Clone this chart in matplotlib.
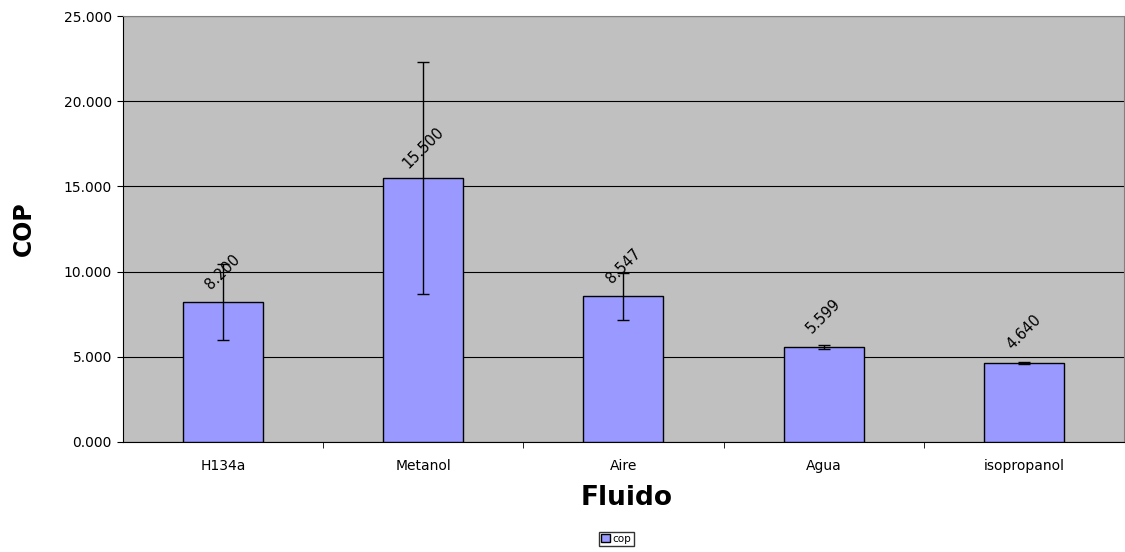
import matplotlib

matplotlib.use("Agg")

import matplotlib.pyplot as plt
import numpy as np
from matplotlib.ticker import FuncFormatter

# data
fluidos = ["H134a", "Metanol", "Aire", "Agua", "isopropanol"]
cop = [8.200, 15.500, 8.547, 5.599, 4.640]
cop_err = [2.23, 6.80, 1.38, 0.12, 0.04]
y_ticks = [0, 5, 10, 15, 20, 25]

plt.rcParams["font.family"] = ["DejaVu Sans"]

fig = plt.figure(figsize=(11.25, 5.52), dpi=100)
ax = fig.add_axes([0.1093, 0.1993, 0.8897, 0.7717])
ax.set_facecolor("#C0C0C0")

x = np.arange(len(fluidos))
ax.bar(x, cop, width=0.4, color="#9999FF", edgecolor="black", linewidth=1.0,
       label="cop", zorder=3)
ax.errorbar(x, cop, yerr=cop_err, fmt="none", ecolor="black", elinewidth=1.0,
            capsize=4, capthick=1.0, zorder=4)

# value labels, rotated, centred a fixed distance above each bar
for xi, v in zip(x, cop):
    ax.annotate(f"{v:.3f}", xy=(xi, v), xytext=(0, 22), textcoords="offset points",
                rotation=45, ha="center", va="center", fontsize=10.5, zorder=5)

ax.set_xlim(-0.5, len(fluidos) - 0.5)
ax.set_ylim(0, 25)
ax.set_yticks(y_ticks)
ax.yaxis.set_major_formatter(FuncFormatter(lambda v, _: f"{v:.3f}"))
ax.grid(axis="y", color="black", linewidth=0.8, zorder=1)
ax.set_axisbelow(True)

ax.set_xticks(x)
ax.set_xticklabels(fluidos)
ax.set_xticks(np.arange(0.5, len(fluidos) - 0.5, 1.0), minor=True)
ax.tick_params(axis="x", which="major", length=0, pad=12, labelsize=10)
ax.tick_params(axis="x", which="minor", length=4, direction="out")
ax.tick_params(axis="y", length=4, direction="out", labelsize=10, pad=4)

for side in ("top", "right"):
    ax.spines[side].set_color("#808080")
    ax.spines[side].set_linewidth(0.8)
ax.spines["left"].set_linewidth(0.8)
ax.spines["bottom"].set_linewidth(0.8)

ax.set_xlabel("Fluido", fontsize=19, fontweight="bold")
ax.xaxis.set_label_coords(0.503, -0.1)
ax.set_ylabel("COP", fontsize=17, fontweight="bold")
ax.yaxis.set_label_coords(-0.087, 0.5)

fig.legend(loc="center", bbox_to_anchor=(0.548, 0.024), fontsize=7.5,
           frameon=True, fancybox=False, edgecolor="black", handlelength=0.8,
           handleheight=0.8, handletextpad=0.3, borderpad=0.2, borderaxespad=0)

fig.savefig("out.png", dpi=100, facecolor="white")
